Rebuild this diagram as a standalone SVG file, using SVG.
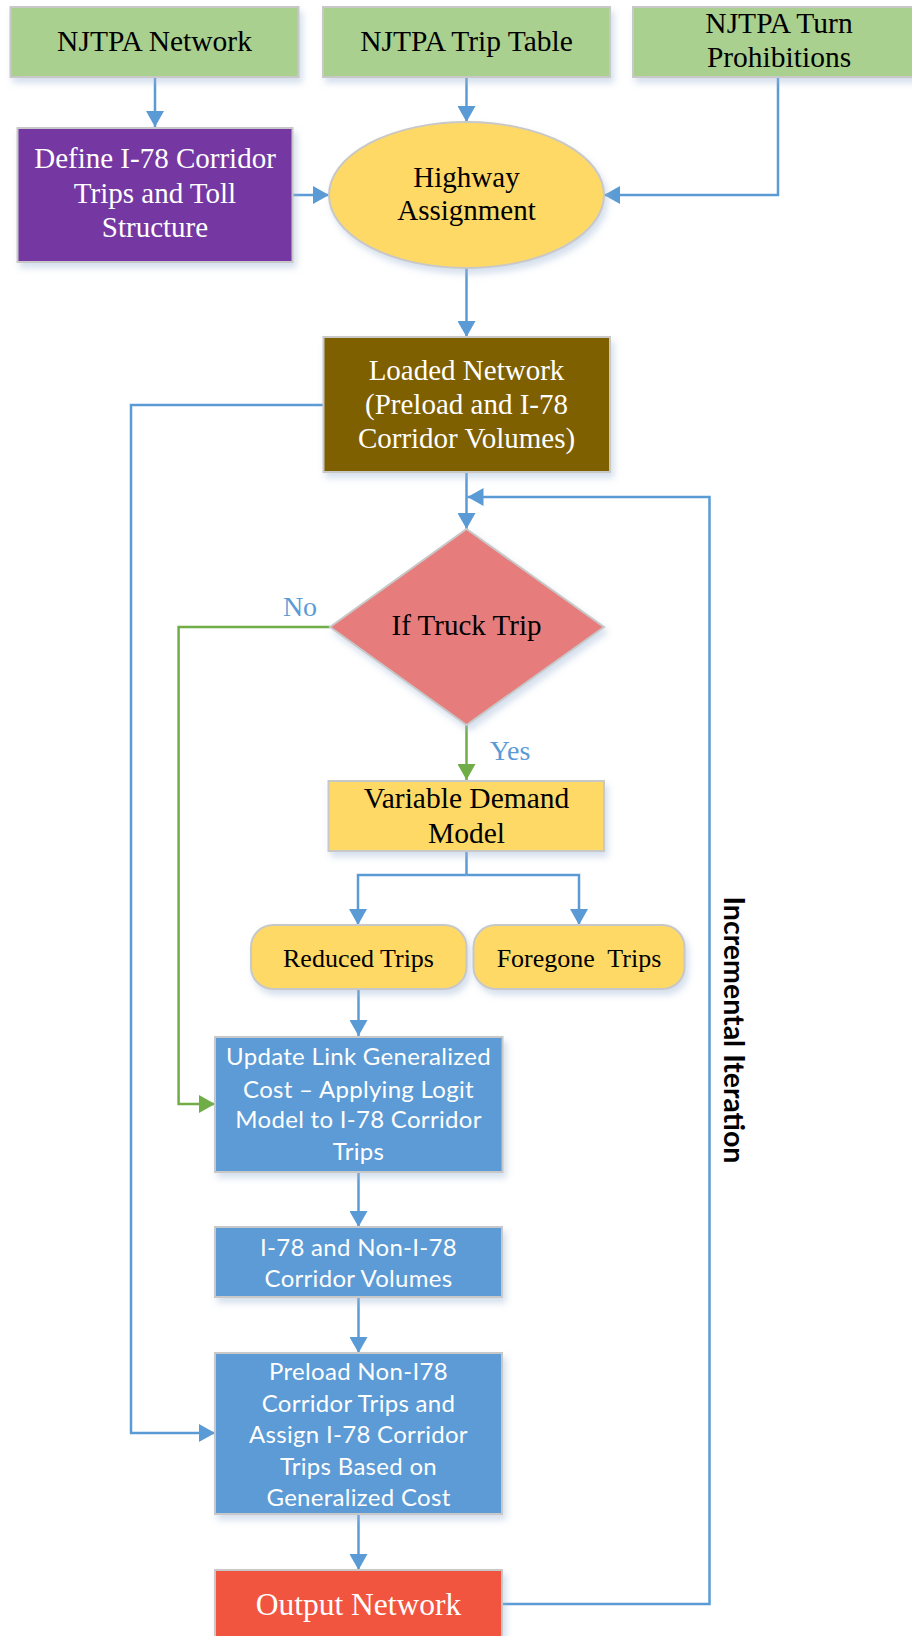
<svg xmlns="http://www.w3.org/2000/svg" width="912" height="1636" viewBox="0 0 912 1636">
<style>
.box{stroke:#C8C8C8;stroke-width:2;filter:url(#sh)}
.tr{font-family:"Liberation Serif","Times New Roman",serif;text-anchor:middle}
.ca{font-family:Lato,"Open Sans",sans-serif;text-anchor:middle;fill:#fff;font-size:24px;letter-spacing:0.3px}
.w{fill:#fff}
.k{fill:#000}
.c{fill:none;stroke:#5B9BD5;stroke-width:2.5}
.g{fill:none;stroke:#70AD47;stroke-width:2.5}
</style>
<defs>
<filter id="sh" x="-10%" y="-10%" width="125%" height="130%">
<feDropShadow dx="3" dy="5" stdDeviation="3.5" flood-color="#9FB6D6" flood-opacity="0.45"/>
</filter>
<marker id="ab" markerUnits="userSpaceOnUse" markerWidth="16" markerHeight="18" refX="16" refY="9" orient="auto">
<path d="M0,0 L16,9 L0,18 z" fill="#5B9BD5"/>
</marker>
<marker id="ag" markerUnits="userSpaceOnUse" markerWidth="16" markerHeight="18" refX="16" refY="9" orient="auto">
<path d="M0,0 L16,9 L0,18 z" fill="#70AD47"/>
</marker>
</defs>
<rect width="912" height="1636" fill="#fff"/>

<g id="connectors">
<path class="c" d="M155,77 V127" marker-end="url(#ab)"/>
<path class="c" d="M466.5,77 V122" marker-end="url(#ab)"/>
<path class="c" d="M778,77 V195 H604" marker-end="url(#ab)"/>
<path class="c" d="M292,195 H329" marker-end="url(#ab)"/>
<path class="c" d="M466.5,268 V337" marker-end="url(#ab)"/>
<path class="c" d="M466.5,472 V529" marker-end="url(#ab)"/>
<path class="c" d="M323,405 H131 V1433 H215" marker-end="url(#ab)"/>
<path class="g" d="M330,627 H178.6 V1104 H215" marker-end="url(#ag)"/>
<path class="g" d="M466.5,725 V780" marker-end="url(#ag)"/>
<path class="c" d="M466.5,851 V875"/>
<path class="c" d="M466.5,875 H358 V925" marker-end="url(#ab)"/>
<path class="c" d="M466.5,875 H579 V925" marker-end="url(#ab)"/>
<path class="c" d="M358.5,989 V1036" marker-end="url(#ab)"/>
<path class="c" d="M358.5,1172 V1227" marker-end="url(#ab)"/>
<path class="c" d="M358.5,1297 V1353" marker-end="url(#ab)"/>
<path class="c" d="M358.5,1514 V1570" marker-end="url(#ab)"/>
<path class="c" d="M502,1604 H709.5 V497 H467.5" marker-end="url(#ab)"/>
<text x="300" y="616" class="tr" font-size="28" fill="#5B9BD5">No</text>
<text x="510" y="760" class="tr" font-size="28" fill="#5B9BD5">Yes</text>
</g>

<g id="njtpa-network">
<rect class="box" x="10.5" y="7" width="288" height="70" fill="#A9D08E"/>
<text x="154.5" y="51" class="tr k" font-size="29.5">NJTPA Network</text>
</g>
<g id="njtpa-trip-table">
<rect class="box" x="323" y="7" width="287" height="70" fill="#A9D08E"/>
<text x="466.5" y="51" class="tr k" font-size="29.5">NJTPA Trip Table</text>
</g>
<g id="njtpa-turn">
<rect class="box" x="633" y="7" width="292" height="70" fill="#A9D08E"/>
<text x="779" y="33" class="tr k" font-size="29.5">NJTPA Turn</text>
<text x="779" y="67" class="tr k" font-size="29.5">Prohibitions</text>
</g>
<g id="define-corridor">
<rect class="box" x="17.5" y="128" width="275" height="134" fill="#7539A3"/>
<text x="155" y="168" class="tr w" font-size="29">Define I-78 Corridor</text>
<text x="155" y="203" class="tr w" font-size="29">Trips and Toll</text>
<text x="155" y="237" class="tr w" font-size="29">Structure</text>
</g>
<g id="highway-assignment">
<ellipse class="box" cx="466.5" cy="195" rx="137.5" ry="73" fill="#FFD966"/>
<text x="466.5" y="187" class="tr k" font-size="29">Highway</text>
<text x="466.5" y="220" class="tr k" font-size="29">Assignment</text>
</g>
<g id="loaded-network">
<rect class="box" x="323.5" y="337" width="286.5" height="135" fill="#7F6000"/>
<text x="466.5" y="380" class="tr w" font-size="29">Loaded Network</text>
<text x="466.5" y="414" class="tr w" font-size="29">(Preload and I-78</text>
<text x="466.5" y="448" class="tr w" font-size="29">Corridor Volumes)</text>
</g>
<g id="if-truck">
<polygon class="box" points="466.5,529 604,627 466.5,725 330,627" fill="#E67C7B"/>
<text x="466.5" y="635" class="tr k" font-size="29">If Truck Trip</text>
</g>
<g id="variable-demand">
<rect class="box" x="328.5" y="781" width="275.5" height="70" fill="#FFD966"/>
<text x="466.5" y="808" class="tr k" font-size="29.5">Variable Demand</text>
<text x="466.5" y="843" class="tr k" font-size="29.5">Model</text>
</g>
<g id="reduced-trips">
<rect class="box" x="251" y="925" width="215.5" height="64" rx="22" fill="#FFD966"/>
<text x="358.5" y="967" class="tr k" font-size="26">Reduced Trips</text>
</g>
<g id="foregone-trips">
<rect class="box" x="473.5" y="925" width="211" height="64" rx="22" fill="#FFD966"/>
<text x="579" y="967" class="tr k" font-size="26" xml:space="preserve">Foregone  Trips</text>
</g>
<g id="update-link">
<rect class="box" x="215" y="1037" width="287.5" height="135" fill="#5B9BD5"/>
<text x="358.5" y="1065" class="ca">Update Link Generalized</text>
<text x="358.5" y="1098" class="ca">Cost – Applying Logit</text>
<text x="358.5" y="1128" class="ca">Model to I-78 Corridor</text>
<text x="358.5" y="1160" class="ca">Trips</text>
</g>
<g id="corridor-volumes">
<rect class="box" x="215" y="1227" width="287" height="70" fill="#5B9BD5"/>
<text x="358.5" y="1256" class="ca">I-78 and Non-I-78</text>
<text x="358.5" y="1287" class="ca">Corridor Volumes</text>
</g>
<g id="preload">
<rect class="box" x="215" y="1353" width="287" height="161" fill="#5B9BD5"/>
<text x="358.5" y="1380" class="ca">Preload Non-I78</text>
<text x="358.5" y="1412" class="ca">Corridor Trips and</text>
<text x="358.5" y="1443" class="ca">Assign I-78 Corridor</text>
<text x="358.5" y="1475" class="ca">Trips Based on</text>
<text x="358.5" y="1506" class="ca">Generalized Cost</text>
</g>
<g id="output-network">
<rect class="box" x="215" y="1570" width="287" height="80" fill="#F1543F"/>
<text x="358.5" y="1615" class="tr w" font-size="31.5">Output Network</text>
</g>
<g id="incremental-label">
<text transform="translate(724,1030) rotate(90)" font-family="Lato,'Open Sans',sans-serif" font-weight="bold" font-size="28.5" text-anchor="middle" fill="#000">Incremental Iteration</text>
</g>
</svg>
